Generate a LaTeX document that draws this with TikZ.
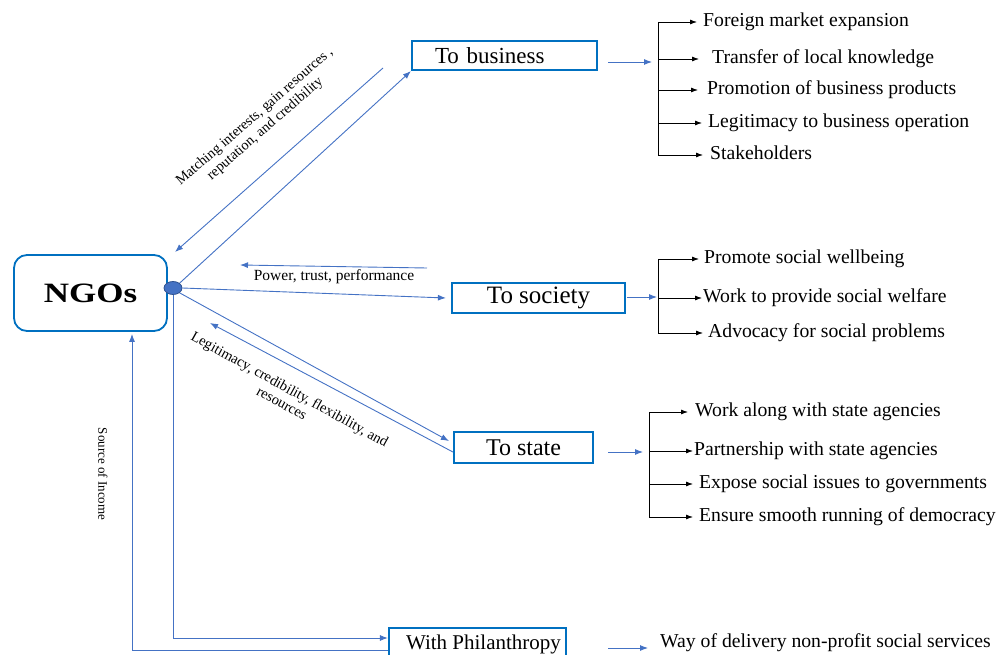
\documentclass[tikz,border=0pt]{standalone}
\usepackage{fontspec}
\usepackage{graphicx}
\setmainfont{Liberation Serif}
\usetikzlibrary{arrows.meta,shapes.geometric}
\definecolor{boxblue}{RGB}{0,112,192}
\definecolor{lineblue}{RGB}{68,114,196}
\definecolor{dotedge}{RGB}{47,82,143}
\begin{document}
\begin{tikzpicture}[x=1pt,y=-1pt,
  box/.style={draw=boxblue, line width=2.2pt, inner sep=0pt},
  bl/.style={draw=lineblue, line width=0.9pt, -{Latex[length=8pt,width=6pt]}},
  bk/.style={draw=black, line width=0.8pt, -{Latex[length=7pt,width=5pt]}},
  spine/.style={draw=black, line width=0.8pt},
  item/.style={anchor=west, inner sep=0pt, text height=13pt, text depth=4pt, font=\fontsize{19.7}{22}\selectfont},
  lbl/.style={inner sep=0pt, align=center}]

\useasboundingbox (0,0) rectangle (997,655);

% main nodes
\node[draw=boxblue, line width=1.8pt, rounded corners=13pt, minimum width=153pt, minimum height=76pt, inner sep=0pt,
      font=\fontsize{28}{30}\selectfont\bfseries] (ngo) at (90.5,293) {\scalebox{1.25}[1]{NGOs}};
\node[ellipse, draw=dotedge, fill=lineblue, line width=0.8pt, minimum width=18pt, minimum height=13pt, inner sep=0pt] (dot) at (173,288) {};

\node[box, minimum width=185pt, minimum height=29pt, inner xsep=23pt, text width=139pt, align=left,
      font=\fontsize{23}{25}\selectfont] (biz) at (504.5,55.5) {To business};
\node[box, minimum width=173pt, minimum height=30pt, font=\fontsize{25}{27}\selectfont] (soc) at (538.5,298) {To society};
\node[box, minimum width=139pt, minimum height=31pt, font=\fontsize{24}{26}\selectfont] (sta) at (523.5,447.5) {To state};
\node[box, minimum width=177pt, minimum height=34pt, text height=14pt, text depth=5pt,
      font=\fontsize{21}{23}\selectfont] (phi) at (477.5,645) {\hspace*{12pt}With Philanthropy};

% labels
\node[lbl, rotate=41, font=\fontsize{14.3}{16}\selectfont] (lm) at (260,123) {Matching interests, gain resources ,\\ reputation, and credibility};
\node[lbl, font=\fontsize{15.5}{17}\selectfont] (lp) at (334,277) {Power, trust, performance};
\node[lbl, rotate=-29, font=\fontsize{14.5}{16}\selectfont] (ll) at (286,396) {Legitimacy, credibility, flexibility, and\\ resources};
\node[lbl, rotate=-90, font=\fontsize{13}{14}\selectfont] (ls) at (103,474) {Source of Income};

% connectors around NGOs
\draw[bl] (dot.north east) -- (biz.south west);
\coordinate (m1) at (383,68);
\coordinate (m2) at (175,252);
\draw[bl] (m1) -- (m2);
\coordinate (p1) at (427,268);
\coordinate (p2) at (240,265);
\draw[bl] (p1) -- (p2);
\draw[bl] (dot.east) -- ([xshift=-5pt]soc.west);
\draw[bl] (dot.south east) -- ([xshift=-4pt,yshift=6.5pt]sta.west);
\coordinate (l2) at (210,323);
\draw[bl] ([yshift=-4.5pt]sta.west) -- (l2);
\draw[bl] (dot.south) |- ([yshift=7pt]phi.west);
\draw[bl] ([yshift=-5pt]phi.west) -| ([xshift=41.5pt,yshift=-2pt]ngo.south);

% business list
\coordinate (ba) at (608,62); \coordinate (bb) at (652,62);
\draw[bl] (ba) -- (bb);
\coordinate (bs1) at (658,22); \coordinate (bs2) at (658,59); \coordinate (bs3) at (658,90);
\coordinate (bs4) at (658,123); \coordinate (bs5) at (658,155);
\draw[spine] (bs1) -- (bs5);
\node[item] (b1) at (703,22) {Foreign market expansion};
\node[item] (b2) at (712,59) {Transfer of local knowledge};
\node[item] (b3) at (707,90) {Promotion of business products};
\node[item] (b4) at (708,123) {Legitimacy to business operation};
\node[item] (b5) at (710,155) {Stakeholders};
\draw[bk] (bs1) -- ([xshift=-6pt]b1.west);
\draw[bk] (bs2) -- ([xshift=-13pt]b2.west);
\draw[bk] (bs3) -- ([xshift=-9pt]b3.west);
\draw[bk] (bs4) -- ([xshift=-6pt]b4.west);
\draw[bk] (bs5) -- ([xshift=-7pt]b5.west);

% society list
\coordinate (sa) at (627,297); \coordinate (sb) at (657,297);
\draw[bl] (sa) -- (sb);
\coordinate (ss1) at (658,259); \coordinate (ss2) at (658,298); \coordinate (ss3) at (658,333);
\draw[spine] (ss1) -- (ss3);
\node[item] (s1) at (704,259) {Promote social wellbeing};
\node[item] (s2) at (703,298) {Work to provide social welfare};
\node[item] (s3) at (708,333) {Advocacy for social problems};
\draw[bk] (ss1) -- ([xshift=-5pt]s1.west);
\draw[bk] (ss2) -- ([xshift=-1pt]s2.west);
\draw[bk] (ss3) -- ([xshift=-5pt]s3.west);

% state list
\coordinate (ta) at (608,452); \coordinate (tb) at (643,452);
\draw[bl] (ta) -- (tb);
\coordinate (ts1) at (649,412); \coordinate (ts2) at (649,451); \coordinate (ts3) at (649,484); \coordinate (ts4) at (649,517);
\draw[spine] (ts1) -- (ts4);
\node[item] (t1) at (695,412) {Work along with state agencies};
\node[item] (t2) at (694,451) {Partnership with state agencies};
\node[item] (t3) at (699,484) {Expose social issues to governments};
\node[item] (t4) at (699,517) {Ensure smooth running of democracy};
\draw[bk] (ts1) -- ([xshift=-7pt]t1.west);
\draw[bk] (ts2) -- ([xshift=-1pt]t2.west);
\draw[bk] (ts3) -- ([xshift=-6pt]t3.west);
\draw[bk] (ts4) -- ([xshift=-6pt]t4.west);

% philanthropy
\coordinate (pa) at (608,648); \coordinate (pb) at (648,648);
\draw[bl] (pa) -- (pb);
\node[item] (w1) at (660,643) {Way of delivery non-profit social services};
\end{tikzpicture}
\end{document}
